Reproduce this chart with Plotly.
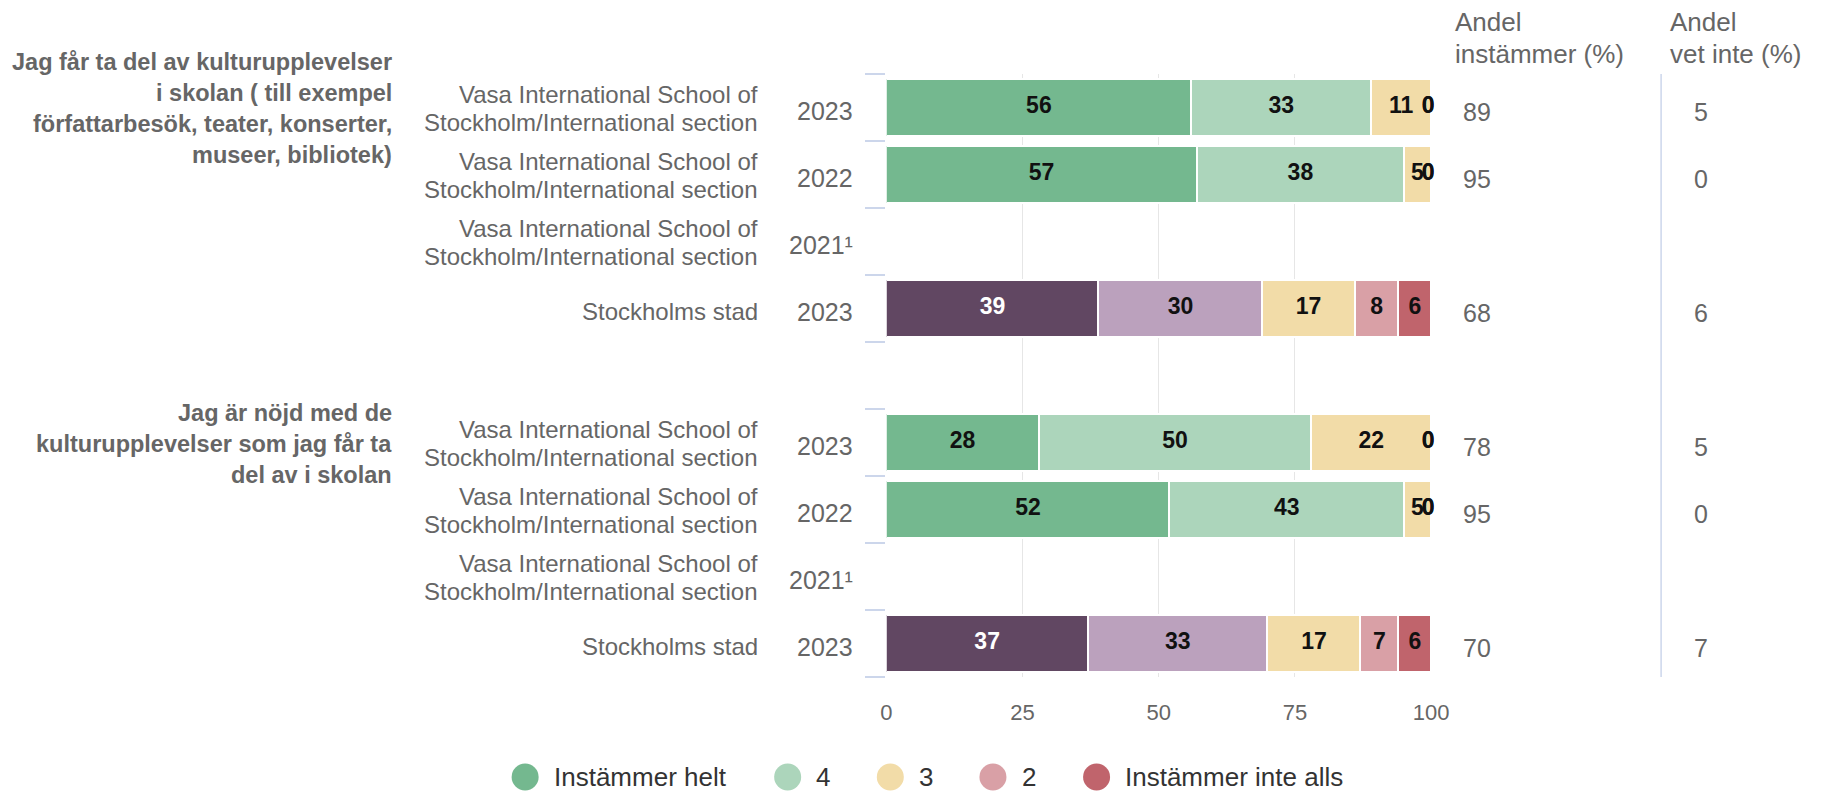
import plotly.graph_objects as go

W, H = 1838, 792
FONT = "Liberation Sans, Arial, Helvetica, sans-serif"

# ---------------- data ----------------
question_lines = [
    ["Jag får ta del av kulturupplevelser", "i skolan ( till exempel",
     "författarbesök, teater, konserter,", "museer, bibliotek)"],
    ["Jag är nöjd med de", "kulturupplevelser som jag får ta", "del av i skolan"],
]
unit_lines = [
    ["Vasa International School of", "Stockholm/International section"],
    ["Vasa International School of", "Stockholm/International section"],
    ["Vasa International School of", "Stockholm/International section"],
    ["Stockholms stad"],
]
years = ["2023", "2022", "2021¹", "2023"]
is_city = [False, False, False, True]

series_names = ["Instämmer helt", "4", "3", "2", "Instämmer inte alls"]
# rows: Q1 (4 rows) then Q2 (4 rows)
helt = [56, 57, None, 39, 28, 52, None, 37]
four = [33, 38, None, 30, 50, 43, None, 33]
three = [11, 5, None, 17, 22, 5, None, 17]
two = [0, 0, None, 8, 0, 0, None, 7]
inte_alls = [0, 0, None, 6, 0, 0, None, 6]
andel_instammer = [89, 95, None, 68, 78, 95, None, 70]
andel_vet_inte = [5, 0, None, 6, 5, 0, None, 7]

header_instammer = ["Andel", "instämmer (%)"]
header_vet_inte = ["Andel", "vet inte (%)"]
x_ticks = [0, 25, 50, 75, 100]

# ---------------- styles ----------------
school_colors = ["#74b88f", "#acd5bb", "#f2dca8", "#d9a0a6", "#c0646c"]
city_colors = ["#614762", "#bba1bd", "#f2dca8", "#d9a0a6", "#c0646c"]
GRID = "#e6e6e6"
TICK = "#ccd6eb"
GREY = "#666666"

# pixel layout
PX_X0, PX_X100 = 892, 1444
PX_TOP, ROW_H = 74, 67
N_ROWS = 9
PX_BOTTOM = PX_TOP + ROW_H * N_ROWS


def px(xp):
    return xp / W


def py(yp):
    return 1 - yp / H


series = [helt, four, three, two, inte_alls]
rows_y = []
row_unit = []
for q in range(2):
    for r in range(4):
        rows_y.append(q * 5 + r)
        row_unit.append(r)

fig = go.Figure()

for s, (name, vals) in enumerate(zip(series_names, series)):
    colors = [city_colors[s] if is_city[row_unit[i]] else school_colors[s]
              for i in range(len(vals))]
    fig.add_trace(go.Bar(
        orientation="h", x=vals, y=rows_y, name=name,
        marker=dict(color=colors, line=dict(color="white", width=2)),
        width=0.85, showlegend=False,
        hovertemplate=name + ": %{x}<extra></extra>",
    ))

# data labels
lx, ly, lt, lc = [], [], [], []
for i in range(len(rows_y)):
    if helt[i] is None:
        continue
    cum = 0
    for s, vals in enumerate(series):
        v = vals[i]
        mid = cum + v / 2
        mid = min(mid, 100 - 0.55)
        lx.append(mid)
        ly.append(rows_y[i])
        lt.append(str(v))
        lc.append("#ffffff" if (s == 0 and is_city[row_unit[i]]) else "#111111")
        cum += v
fig.add_trace(go.Scatter(
    x=lx, y=ly, text=lt, mode="text", textposition="middle center",
    textfont=dict(family=FONT, size=23, color=lc, weight="bold"),
    cliponaxis=False,
    showlegend=False, hoverinfo="skip",
))

annotations = []
# unit and year labels, right columns
for i, y in enumerate(rows_y):
    r = row_unit[i]
    lines = unit_lines[r]
    shifts = [13, -15] if len(lines) == 2 else [-3]
    for line, sh in zip(lines, shifts):
        annotations.append(dict(
            x=px(764), xref="paper", y=y, yref="y", yshift=sh,
            text=line, showarrow=False, xanchor="right", yanchor="middle",
            font=dict(family=FONT, size=24, color=GREY)))
    annotations.append(dict(
        x=px(860), xref="paper", y=y, yref="y", yshift=-3,
        text=years[r], showarrow=False, xanchor="right", yanchor="middle",
        font=dict(family=FONT, size=25, color=GREY)))
    if andel_instammer[i] is not None:
        annotations.append(dict(
            x=px(1474), xref="paper", y=y, yref="y", yshift=-4,
            text=str(andel_instammer[i]), showarrow=False, xanchor="left",
            yanchor="middle", font=dict(family=FONT, size=25, color=GREY)))
    if andel_vet_inte[i] is not None:
        annotations.append(dict(
            x=px(1708), xref="paper", y=y, yref="y", yshift=-4,
            text=str(andel_vet_inte[i]), showarrow=False, xanchor="left",
            yanchor="middle", font=dict(family=FONT, size=25, color=GREY)))

# question (group) labels
q_line_y = [[62, 93, 124, 155], [413, 444, 475]]
for q in range(2):
    for line, yy in zip(question_lines[q], q_line_y[q]):
        annotations.append(dict(
            x=px(393), xref="paper", y=py(yy), yref="paper",
            text=line, showarrow=False, xanchor="right", yanchor="middle",
            font=dict(family=FONT, size=23.5, color=GREY, weight="bold")))

# headers
for hdr, xx in ((header_instammer, 1466), (header_vet_inte, 1684)):
    for line, yy in zip(hdr, (22, 54)):
        annotations.append(dict(
            x=px(xx), xref="paper", y=py(yy), yref="paper",
            text=line, showarrow=False, xanchor="left", yanchor="middle",
            font=dict(family=FONT, size=26, color=GREY)))

# custom legend
shapes = []
legend_cx = [526, 792, 896, 1000, 1105]
LEG_Y = 777
for name, col, cx in zip(series_names, school_colors, legend_cx):
    shapes.append(dict(
        type="circle", xref="paper", yref="paper",
        xsizemode="pixel", ysizemode="pixel",
        xanchor=px(cx), yanchor=py(LEG_Y),
        x0=-13.5, x1=13.5, y0=-13.5, y1=13.5,
        fillcolor=col, line=dict(width=0)))
    annotations.append(dict(
        x=px(cx + 27), xref="paper", y=py(LEG_Y), yref="paper",
        text=name, showarrow=False, xanchor="left", yanchor="middle",
        font=dict(family=FONT, size=26, color="#333333")))

# separator line between right columns
shapes.append(dict(
    type="line", xref="paper", yref="paper",
    x0=px(1677), x1=px(1677), y0=py(PX_TOP), y1=py(PX_BOTTOM),
    line=dict(color=TICK, width=1.5)))

fig.update_layout(
    autosize=True,
    margin=dict(l=0, r=0, t=0, b=0),
    paper_bgcolor="white", plot_bgcolor="white",
    barmode="stack", bargap=0,
    font=dict(family=FONT, color=GREY),
    showlegend=False,
    annotations=annotations, shapes=shapes,
    xaxis=dict(
        domain=[px(PX_X0), px(PX_X100)], range=[0, 100],
        tickvals=x_ticks, ticktext=[str(t) for t in x_ticks],
        showgrid=True, gridcolor=GRID, gridwidth=1,
        zeroline=False, showline=False, ticks="",
        ticklabelstandoff=20,
        tickfont=dict(family=FONT, size=22, color=GREY),
        fixedrange=True,
    ),
    yaxis=dict(
        domain=[py(PX_BOTTOM), py(PX_TOP)], range=[N_ROWS - 0.5, -0.5],
        tickvals=[k - 0.5 for k in range(N_ROWS + 1)],
        showticklabels=False, ticks="outside", ticklen=20,
        tickcolor=TICK, tickwidth=2,
        showgrid=False, zeroline=False, showline=False,
        fixedrange=True,
    ),
)

fig.write_html(
    "out.html",
    config={"responsive": True, "displayModeBar": False},
    default_width="100vw",
    default_height="100vh",
    post_script=(
        "document.documentElement.style.margin='0';"
        "document.body.style.margin='0';"
        "document.documentElement.style.overflow='hidden';"
        "document.body.style.overflow='hidden';"
        "Plotly.Plots.resize(document.getElementById('{plot_id}'));"
    ),
)
